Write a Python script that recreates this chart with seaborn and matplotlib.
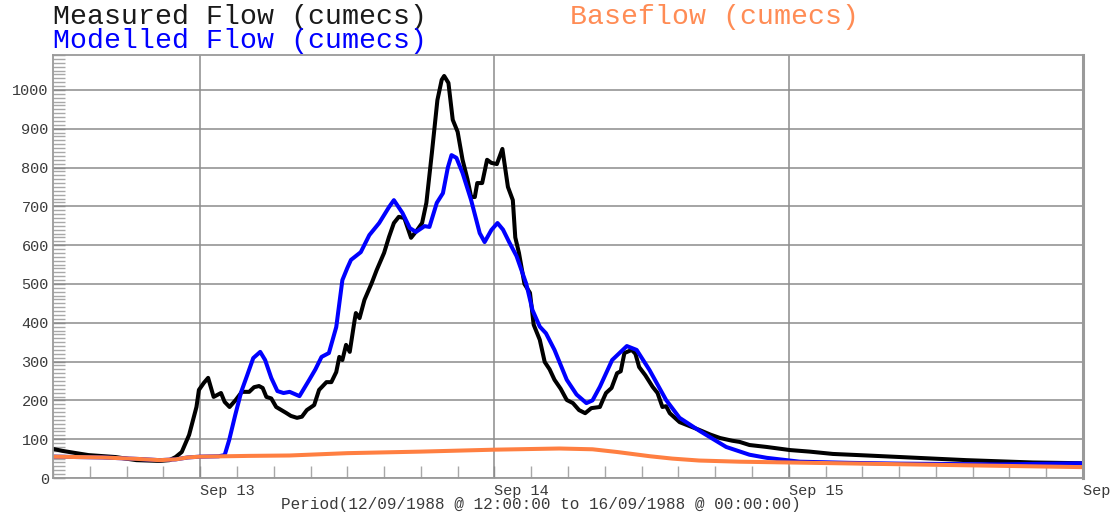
import numpy as np
import pandas as pd
import matplotlib
matplotlib.use("Agg")
import matplotlib.pyplot as plt
import matplotlib.dates as mdates
from matplotlib.ticker import MultipleLocator
import seaborn as sns

# Event period: 12/09/1988 12:00 to 16/09/1988 00:00, offsets in hours
start = pd.Timestamp("1988-09-12 12:00:00")
end = pd.Timestamp("1988-09-16 00:00:00")

measured_hours = [0, 0.75, 1.9, 2.9, 5.1, 6.8, 8.7, 9.5, 10.0, 10.5, 11.1, 11.7, 11.9,
                  12.3, 12.65, 13.1, 13.7, 14.0, 14.4, 14.9, 15.4, 16.0, 16.4, 16.8,
                  17.1, 17.4, 17.8, 18.2, 19.0, 19.4, 19.9, 20.3, 20.7, 21.3, 21.7,
                  22.3, 22.7, 23.1, 23.35, 23.6, 23.9, 24.2, 24.6, 24.7, 25.0, 25.4,
                  26.0, 26.4, 27.0, 27.4, 27.8, 28.2, 28.65, 29.2, 29.7, 30.1, 30.45,
                  30.9, 31.35, 31.7, 31.9, 32.25, 32.6, 33.0, 33.4, 33.8, 34.1, 34.4,
                  34.6, 35.0, 35.4, 35.75, 36.2, 36.65, 37.1, 37.5, 37.7, 38.0, 38.45,
                  38.9, 39.2, 39.7, 40.1, 40.5, 40.9, 41.4, 41.9, 42.4, 42.9, 43.4,
                  43.9, 44.6, 44.9, 45.1, 45.55, 46.0, 46.3, 46.6, 47.2, 47.5, 47.8,
                  48.3, 48.9, 49.3, 49.7, 50.0, 50.3, 51.1, 51.9, 52.7, 53.6, 54.4,
                  55.4, 56.0, 56.8, 58.2, 60.1, 61.7, 63.6, 66.4, 69.1, 71.8, 74.5,
                  77.2, 79.9, 84.0]
measured_flow = [75, 70, 64, 59, 54, 46, 44, 46, 54, 67, 111, 183, 227,
                 245, 258, 209, 219, 196, 183, 201, 222, 222, 234, 237,
                 232, 209, 205, 183, 168, 160, 155, 158, 175, 188, 227,
                 247, 247, 273, 312, 304, 343, 325, 407, 425, 412, 459,
                 503, 536, 580, 621, 657, 673, 670, 619, 639, 657, 709,
                 838, 974, 1026, 1036, 1018, 923, 892, 820, 770, 724, 724,
                 760, 760, 820, 812, 809, 848, 750, 716, 620, 580, 500,
                 477, 395, 356, 299, 280, 253, 230, 201, 193, 175, 167,
                 180, 183, 205, 219, 232, 270, 275, 322, 330, 320, 286,
                 265, 235, 219, 183, 185, 167, 144, 134, 124, 112, 103,
                 96, 93, 85, 80, 72, 68, 62, 58, 54, 50, 46,
                 43, 40, 38]

modelled_hours = [0, 4, 7, 8.7, 10, 11, 12, 13.5, 14.0, 14.37, 14.86, 15.35, 15.84,
                  16.33, 16.9, 17.3, 17.8, 18.3, 18.8, 19.3, 20.1, 20.9, 21.4, 21.9,
                  22.5, 23.1, 23.6, 24.0, 24.3, 25.1, 25.8, 26.6, 27.4, 27.8, 28.5,
                  29.1, 29.6, 30.3, 30.7, 31.3, 31.8, 32.2, 32.5, 32.9, 33.4, 34.1,
                  34.8, 35.2, 35.75, 36.25, 36.7, 37.2, 37.8, 38.6, 39.1, 39.7, 40.2,
                  40.9, 41.9, 42.7, 43.5, 44.0, 44.6, 45.6, 46.8, 47.6, 48.65, 50.0,
                  51.1, 52.7, 54.9, 56.8, 58.2, 60.9, 65.0, 69.1, 77.2, 84.0]
modelled_flow = [55, 53, 49, 46, 48, 53, 55, 56, 59, 98, 162, 222, 265,
                 309, 325, 304, 258, 224, 219, 222, 211, 253, 280, 312,
                 322, 389, 510, 541, 562, 582, 626, 657, 698, 716, 683,
                 644, 634, 649, 647, 709, 734, 800, 832, 825, 786, 716,
                 631, 608, 639, 657, 640, 608, 572, 500, 433, 390, 373,
                 330, 253, 215, 193, 200, 235, 304, 340, 330, 278, 201,
                 155, 122, 80, 60, 52, 42, 39, 37, 35, 38]

baseflow_hours = [0, 4, 7, 8.7, 10, 11, 12, 16, 19.3, 24, 30, 36, 41.3, 44, 46,
                  48.7, 50.5, 52.7, 56, 60, 66, 72, 78, 84]
baseflow_flow = [55, 53, 49, 46, 48, 53, 55, 57, 58, 64, 68, 73, 76, 74, 67,
                 56, 50, 45, 42, 40, 37, 34, 31, 28]

y_ticks = list(range(0, 1001, 100))
legend_labels = ["Measured Flow (cumecs)", "Modelled Flow (cumecs)", "Baseflow (cumecs)"]
x_label = "Period(12/09/1988 @ 12:00:00 to 16/09/1988 @ 00:00:00)"


def frame(hours, values, name):
    return pd.DataFrame({
        "time": start + pd.to_timedelta(np.asarray(hours, dtype=float), unit="h"),
        "flow": values,
        "series": name,
    })


data = pd.concat([
    frame(measured_hours, measured_flow, legend_labels[0]),
    frame(modelled_hours, modelled_flow, legend_labels[1]),
    frame(baseflow_hours, baseflow_flow, legend_labels[2]),
], ignore_index=True)

palette = {legend_labels[0]: "#000000",
           legend_labels[1]: "#0000ff",
           legend_labels[2]: "#ff7f41"}

sns.set_style("white")
plt.rcParams["font.family"] = ["Liberation Mono", "DejaVu Sans Mono"]

fig = plt.figure(figsize=(11.14, 5.15), dpi=100)
ax = fig.add_axes([53 / 1114, 1 - 478 / 515, (1083 - 53) / 1114, (478 - 55) / 515])

sns.lineplot(data=data, x="time", y="flow", hue="series", palette=palette,
             hue_order=legend_labels, linewidth=2.9, legend=False, ax=ax,
             estimator=None, sort=False)

ax.set_xlim(start, end)
ax.set_ylim(0, 1090)

# grid and frame
grid_col = "#8c8c8c"
ax.set_yticks(y_ticks)
ax.yaxis.set_minor_locator(MultipleLocator(10))
ax.xaxis.set_major_locator(mdates.DayLocator())
ax.xaxis.set_major_formatter(mdates.DateFormatter("%b %d"))
ax.xaxis.set_minor_locator(mdates.HourLocator(byhour=range(0, 24, 3)))
ax.grid(True, which="major", color=grid_col, linewidth=1.1)
ax.set_axisbelow(True)
for side in ["left", "bottom", "top", "right"]:
    ax.spines[side].set_visible(True)
    ax.spines[side].set_color("#9a9a9a")
    ax.spines[side].set_linewidth(1.3)
ax.spines["right"].set_linewidth(2.2)

ax.tick_params(axis="both", which="both", direction="in", left=True, bottom=True,
               colors="#8c8c8c", labelcolor="#3a3a3a", labelsize=11)
ax.tick_params(axis="both", which="major", length=8.5, width=1.0)
ax.tick_params(axis="both", which="minor", length=8.5, width=1.0, color="#a8a8a8")
ax.tick_params(axis="y", which="major", pad=3)
ax.tick_params(axis="x", which="major", pad=4)
for lbl in ax.get_xticklabels():
    lbl.set_horizontalalignment("left")

ax.set_xlabel(x_label, fontsize=11.5, color="#3a3a3a", labelpad=-2)
ax.xaxis.set_label_coords((541 - 53) / 1030, -0.045, transform=ax.transAxes)
ax.xaxis.label.set_verticalalignment("top")
ax.set_ylabel("")

# series titles above the plot
fig.text(53 / 1114, 1 - 24 / 515, legend_labels[0], color="#1a1a1a", fontsize=20.3)
fig.text(53 / 1114, 1 - 48.5 / 515, legend_labels[1], color="#0000ff", fontsize=20.3)
fig.text(570 / 1114, 1 - 24 / 515, legend_labels[2], color="#ff8c55", fontsize=20.3)

fig.savefig("out.png", dpi=100)
